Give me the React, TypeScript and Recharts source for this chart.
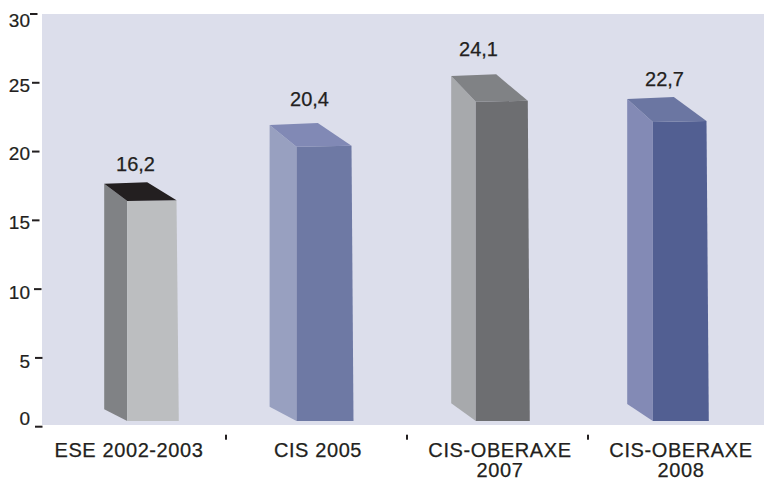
import { Bar, BarChart, LabelList, XAxis, YAxis } from "recharts";

const CATEGORIES = ["ESE 2002-2003", "CIS 2005", "CIS-OBERAXE 2007", "CIS-OBERAXE 2008"];
const VALUES = [16.2, 20.4, 24.1, 22.7];
const Y_TICKS = [0, 5, 10, 15, 20, 25, 30];

const data = CATEGORIES.map((name, i) => ({ name, value: VALUES[i] }));

const INK = "#231f20";
const FONT = "'Liberation Sans', Arial, sans-serif";
const BAND = 181;
const FLOOR_LIFT = 5.7; // the bars stand a little above the axis zero

// The source is a hand-drawn 3D graphic, so every box is slightly different.
// Offsets are relative to the x and top that the scales give for the bar.
const BOXES = [
  { backL: -3.8, frontL: 19.2, frontR: 68.5, baseR: 70.8, backR: 39.2, yBackL: -20.1, yBackR: -21.5, yFrontR: -3.5, yFrontL: -2.8, sideLift: 17.4, side: "#808285", front: "#bcbec0", top: "#231f20" },
  { backL: -19.4, frontL: 7.5, frontR: 62.5, baseR: 64.5, backR: 28.8, yBackL: -21, yBackR: -23, yFrontR: -0.3, yFrontL: 0.7, sideLift: 20, side: "#98a0c0", front: "#6e79a4", top: "#8189b5" },
  { backL: -18.8, frontL: 5.8, frontR: 57.8, baseR: 59.8, backR: 26.2, yBackL: -19.1, yBackR: -20.8, yFrontR: 5.6, yFrontL: 6.6, sideLift: 23.4, side: "#a7a9ac", front: "#6d6e71", top: "#808285" },
  { backL: -23.8, frontL: 1.8, frontR: 55.5, baseR: 57.8, backR: 22.8, yBackL: -15.3, yBackR: -17.3, yFrontR: 6.7, yFrontL: 7.7, sideLift: 22.7, side: "#838ab5", front: "#525f92", top: "#6b76a2" },
];

// value label nudges, per bar
const LABEL_NUDGE = [
  { dx: -0.5, dy: -33 },
  { dx: -7.5, dy: -40.5 },
  { dx: -19.5, dy: -39.5 },
  { dx: -14.5, dy: -28.5 },
];

const X_LABEL_DX = [-6.5, 1.5, 2.5, 2.5];

// y tick label and dash nudges, keyed by tick value
const Y_LABEL_DY: Record<number, number> = { 0: -1.5, 5: 10, 10: 10, 15: 8.5, 20: 8.5, 25: 9, 30: 12.5 };
const Y_DASH_X: Record<number, number> = { 0: 35, 5: 35, 10: 34, 15: 32, 20: 32, 25: 32, 30: 30 };

function Box3D(props: any) {
  const { x, y, height, index } = props;
  const b = BOXES[index];
  const base = y + height - FLOOR_LIFT;
  const pts = (list: number[][]) => list.map((p) => p.join(",")).join(" ");
  return (
    <g>
      <polygon
        fill={b.side}
        points={pts([
          [x + b.backL, y + b.yBackL],
          [x + b.frontL, y + b.yFrontL],
          [x + b.frontL, base],
          [x + b.backL, y + height - b.sideLift],
        ])}
      />
      <polygon
        fill={b.front}
        points={pts([
          [x + b.frontL, y + b.yFrontL],
          [x + b.frontR, y + b.yFrontR],
          [x + b.baseR, base],
          [x + b.frontL, base],
        ])}
      />
      <polygon
        fill={b.top}
        points={pts([
          [x + b.backL, y + b.yBackL],
          [x + b.backR, y + b.yBackR],
          [x + b.frontR, y + b.yFrontR],
          [x + b.frontL, y + b.yFrontL],
        ])}
      />
    </g>
  );
}

function ValueLabel(props: any) {
  const { x, y, width, value, index } = props;
  const n = LABEL_NUDGE[index];
  return (
    <text
      x={x + width / 2 + n.dx}
      y={y + n.dy}
      textAnchor="middle"
      fontFamily={FONT}
      fontSize={20}
      fill={INK}
      stroke={INK}
      strokeWidth={0.25}
    >
      {Number(value).toFixed(1).replace(".", ",")}
    </text>
  );
}

function YTick({ y, payload }: any) {
  const v = payload.value;
  const dashX = Y_DASH_X[v];
  return (
    <g>
      <text
        x={30}
        y={y + Y_LABEL_DY[v]}
        textAnchor="end"
        fontFamily={FONT}
        fontSize={19}
        fill={INK}
        stroke={INK}
        strokeWidth={0.2}
      >
        {v}
      </text>
      <rect x={dashX} y={y - 1} width={7.5} height={2} fill={INK} />
    </g>
  );
}

function XTick({ x, y, payload, index }: any) {
  const words = String(payload.value);
  const split = words.lastIndexOf(" ");
  const lines = words.startsWith("CIS-") ? [words.slice(0, split), words.slice(split + 1)] : [words];
  const cx = x + X_LABEL_DX[index];
  return (
    <g>
      {lines.map((line, i) => (
        <text
          key={line}
          x={cx}
          y={456.5 + i * 20.5}
          textAnchor="middle"
          fontFamily={FONT}
          fontSize={20}
          letterSpacing={0.6}
          fill={INK}
          stroke={INK}
          strokeWidth={0.25}
        >
          {line}
        </text>
      ))}
      <rect x={x + BAND / 2 - 1} y={y} width={2} height={5} fill={INK} />
    </g>
  );
}

export default function App() {
  return (
    <div style={{ position: "absolute", left: 0, top: 0, width: 764, height: 481, background: "#fff" }}>
      <div style={{ position: "absolute", left: 42, top: 14, width: 722, height: 411, background: "#dcdeeb" }} />
      <BarChart
        width={764}
        height={481}
        data={data}
        margin={{ top: 14, right: -5, bottom: 0, left: 0 }}
        barSize={56}
        style={{ position: "absolute", left: 0, top: 0 }}
      >
        <XAxis
          dataKey="name"
          height={54.3}
          padding={{ left: 3, right: 0 }}
          axisLine={false}
          tickLine={false}
          interval={0}
          tick={<XTick />}
        />
        <YAxis
          width={42}
          domain={[0, 30]}
          ticks={Y_TICKS}
          axisLine={false}
          tickLine={false}
          interval={0}
          tick={<YTick />}
        />
        <Bar dataKey="value" isAnimationActive={false} shape={<Box3D />}>
          <LabelList dataKey="value" content={<ValueLabel />} />
        </Bar>
      </BarChart>
    </div>
  );
}
